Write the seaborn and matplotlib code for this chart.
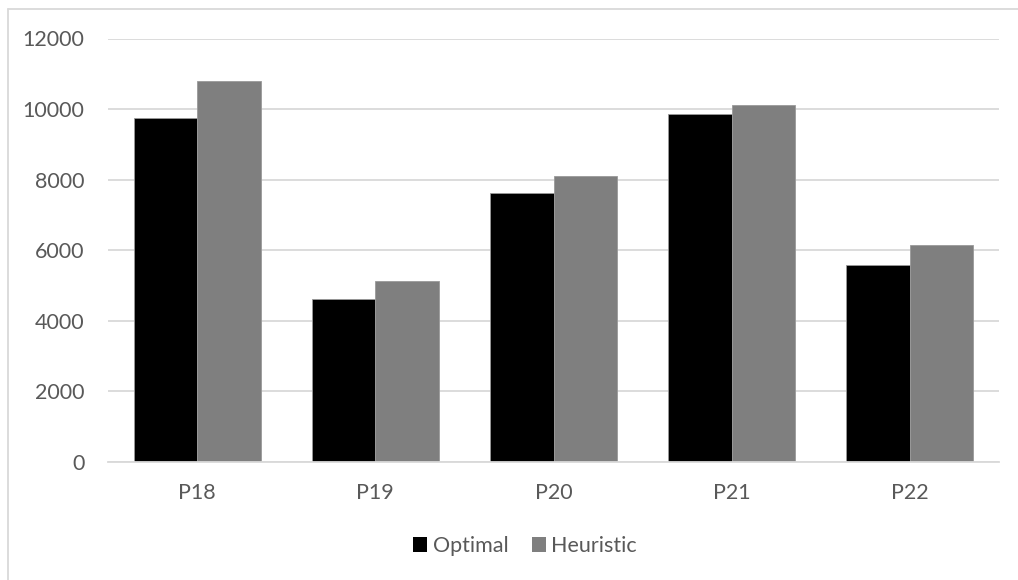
import matplotlib
matplotlib.use("Agg")
import matplotlib.pyplot as plt
from matplotlib.lines import Line2D
from matplotlib.patches import Patch
import seaborn as sns
import pandas as pd

problems = ["P18", "P19", "P20", "P21", "P22"]
optimal = [9740, 4605, 7630, 9855, 5580]
heuristic = [10790, 5125, 8095, 10120, 6140]
series_names = ["Optimal", "Heuristic"]
y_ticks = [0, 2000, 4000, 6000, 8000, 10000, 12000]

df = pd.DataFrame({
    "problem": problems * 2,
    "value": optimal + heuristic,
    "method": [series_names[0]] * len(problems) + [series_names[1]] * len(problems),
})

sns.set_theme(style="white")
plt.rcParams["font.family"] = ["Lato", "DejaVu Sans"]

W, H = 1018, 580
fig = plt.figure(figsize=(W / 100, H / 100), dpi=100)
ax = fig.add_axes([108 / W, 1 - 462 / H, (999 - 108) / W, (462 - 38.5) / H])

text_color = "#595959"
colors = {"Optimal": "#000000", "Heuristic": "#7f7f7f"}

sns.barplot(data=df, x="problem", y="value", hue="method", palette=colors,
            width=0.713, gap=0, ax=ax, legend=False, saturation=1,
            edgecolor="#9a9a9a", linewidth=0.6)

ax.set_ylim(0, 12000)
ax.set_yticks(y_ticks)
ax.set_yticklabels([str(t) for t in y_ticks])
ax.yaxis.grid(True, color="#d9d9d9", linewidth=1.3)
ax.set_axisbelow(True)
for side in ["top", "right", "left"]:
    ax.spines[side].set_visible(False)
ax.spines["bottom"].set_color("#d9d9d9")
ax.spines["bottom"].set_linewidth(1.3)
ax.tick_params(axis="both", length=0, colors=text_color, labelsize=15.5)
ax.tick_params(axis="y", pad=17)
ax.tick_params(axis="x", pad=15)
ax.set_xlabel("")
ax.set_ylabel("")

handles = [Patch(facecolor=colors[n], edgecolor="none", label=n) for n in series_names]
leg = fig.legend(handles=handles, loc="center", bbox_to_anchor=(525 / W, 1 - 546 / H),
                 ncol=2, frameon=False, fontsize=15.5, handlelength=0.65, handleheight=0.65,
                 handletextpad=0.25, columnspacing=1.1)
for t in leg.get_texts():
    t.set_color(text_color)

# chart frame edges
fig.add_artist(Line2D([8 / W, 1.0], [1 - 9 / H, 1 - 9 / H], color="#d9d9d9", linewidth=1.3,
                      transform=fig.transFigure))
fig.add_artist(Line2D([8 / W, 8 / W], [0, 1 - 9 / H], color="#d9d9d9", linewidth=1.3,
                      transform=fig.transFigure))

fig.savefig("out.png", dpi=100, facecolor="white")
